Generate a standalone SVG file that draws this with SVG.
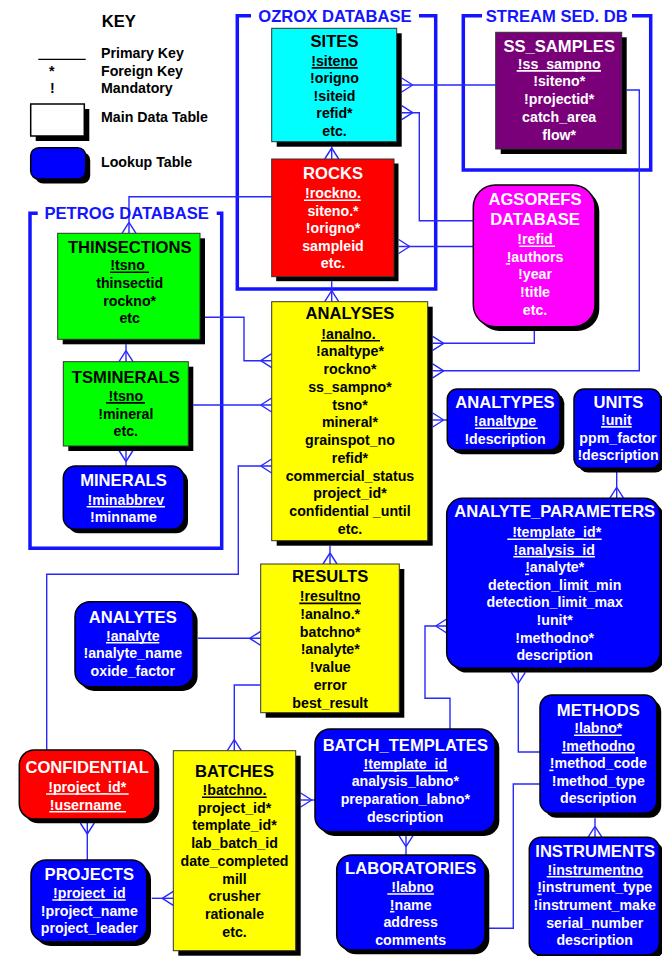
<svg xmlns="http://www.w3.org/2000/svg" width="662" height="956" viewBox="0 0 662 956">
<defs>
<marker id="crow" markerWidth="14" markerHeight="16" refX="12" refY="8" orient="auto" markerUnits="userSpaceOnUse" viewBox="0 0 14 16" overflow="visible"><path d="M1,8 L12,1 M1,8 L12,15" fill="none" stroke="#2828ff" stroke-width="1.4"/></marker>
</defs>
<style>
text{font-family:"Liberation Sans",Arial,sans-serif;font-weight:bold;fill:#000}
.ti{font-size:16.6px;text-anchor:middle}
.f{font-size:14.2px;text-anchor:middle}
.k{font-size:14.2px}
.w{fill:#fff}
.sh{fill:#000}
.frame{fill:none;stroke:#1414ff;stroke-width:3.5}
.ft{font-size:16.6px;fill:#1414ff;text-anchor:middle}
.c{fill:none;stroke:#2828ff;stroke-width:1.4}
.cm{marker-end:url(#crow)}
.ul{stroke-width:1.6}
.uw{stroke:#fff}
.ub{stroke:#000}
.box{stroke:#333;stroke-width:1}
.rbox{stroke:#000;stroke-width:1.5}
</style>
<rect width="662" height="956" fill="#fff"/>

<g id="key">
<text class="k" x="101.7" y="26.7" style="font-size:16.6px">KEY</text>
<line x1="38.3" y1="59.3" x2="85.7" y2="59.3" stroke="#000" stroke-width="1.3"/>
<text class="k" x="101" y="57.5">Primary Key</text>
<text class="k" x="51.7" y="76" text-anchor="middle">*</text>
<text class="k" x="101" y="76">Foreign Key</text>
<text class="k" x="52.3" y="93.3" text-anchor="middle">!</text>
<text class="k" x="101" y="93.3">Mandatory</text>
<rect class="sh" x="35.7" y="109" width="53.6" height="32"/>
<rect x="30.7" y="104" width="53.6" height="32" fill="#fff" stroke="#000" stroke-width="1.5"/>
<text class="k" x="101" y="122.3">Main Data Table</text>
<rect class="sh" x="35.2" y="152.2" width="55" height="31.3" rx="8"/>
<rect class="rbox" x="30.7" y="147.7" width="55" height="31.3" rx="8" fill="#0000ff"/>
<text class="k" x="101" y="167.3">Lookup Table</text>
</g>

<g id="frames">
<path class="frame" d="M251,15.7 H237.3 V289 H435.7 V15.7 H419"/>
<text class="ft" x="335" y="21.7">OZROX DATABASE</text>
<path class="frame" d="M482,15.7 H463.3 V170 H650.7 V15.7 H632"/>
<text class="ft" x="556.7" y="21.7">STREAM SED. DB</text>
<path class="frame" d="M37.7,213.3 H30 V548.3 H221.7 V213.3 H216.7"/>
</g>

<g id="connectors">
<path class="c cm" d="M331.7,146.7 V159"/>
<path class="c cm" d="M495.7,85 H401.7"/>
<path class="c cm" d="M473.3,220.7 H419.3 V112.7 H401.7"/>
<path class="c cm" d="M473.3,246.5 H398.7"/>
<path class="c cm" d="M271.7,196.7 H129 V233.3"/>
<path class="c cm" d="M331.7,281.2 V301.7"/>
<path class="c cm" d="M205,317.3 H244 V360.7 H271.7"/>
<path class="c cm" d="M193.3,405 H271.7"/>
<path class="c cm" d="M126,344.3 V361.7"/>
<path class="c cm" d="M126,466 V450.5"/>
<path class="c cm" d="M46.7,750 V574.3 H238.3 V466 H271.7"/>
<path class="c cm" d="M534.3,330.8 V343.3 H432.7"/>
<path class="c cm" d="M626.7,90 H639.3 V370.8 H432.7"/>
<path class="c cm" d="M447.3,420 H432.7"/>
<path class="c cm" d="M330,545.7 V564"/>
<path class="c cm" d="M198,638.3 H260.7"/>
<path class="c cm" d="M260.7,685 H234.3 V750.7"/>
<path class="c cm" d="M151.7,898.3 H173.3"/>
<path class="c cm" d="M87.3,860 V823"/>
<path class="c cm" d="M315,800 H300.7"/>
<path class="c cm" d="M406,855 V835.7"/>
<path class="c cm" d="M616.7,472 V498.3"/>
<path class="c cm" d="M450,729 V698.3 H425 V626 H446.7"/>
<path class="c cm" d="M540,752 H518.3 V672.3"/>
<path class="c" d="M485,928.3 H513.3 V784 H540"/>
<path class="c cm" d="M595,818.3 V837.3"/>
</g>
<text class="ft" x="126.7" y="219.3">PETROG DATABASE</text>

<g id="sites">
<rect class="sh" x="276.7" y="33.3" width="125" height="113.4"/>
<rect class="box" x="271.7" y="28.3" width="125" height="113.4" fill="#00ffff"/>
<text class="ti" x="334.5" y="47.3">SITES</text>
<text class="f" x="334.5" y="65.7">!siteno</text>
<line class="ul ub" x1="311.7" y1="67.9" x2="357.7" y2="67.9"/>
<text class="f" x="334.5" y="83.2">!origno</text>
<text class="f" x="334.5" y="100.8">!siteid</text>
<text class="f" x="334.5" y="118.4">refid*</text>
<text class="f" x="334.5" y="136">etc.</text>
</g>

<g id="rocks">
<rect class="sh" x="276.2" y="163.5" width="122.3" height="117.7"/>
<rect class="box" x="271.7" y="159" width="122.3" height="117.7" fill="#ff0000"/>
<text class="ti w" x="333" y="179">ROCKS</text>
<text class="f w" x="333" y="198">!rockno.</text>
<line class="ul uw" x1="304" y1="200.2" x2="360.7" y2="200.2"/>
<text class="f w" x="333" y="215.6">siteno.*</text>
<text class="f w" x="333" y="233.2">!origno*</text>
<text class="f w" x="333" y="250.8">sampleid</text>
<text class="f w" x="333" y="268.4">etc.</text>
</g>

<g id="ss_samples">
<rect class="sh" x="500.7" y="37.3" width="126" height="116.7"/>
<rect class="box" x="495.7" y="32.3" width="126" height="116.7" fill="#7a007a"/>
<text class="ti w" x="559.2" y="52.3">SS_SAMPLES</text>
<text class="f w" x="559.2" y="68.7">!ss_sampno</text>
<line class="ul uw" x1="516.7" y1="70.9" x2="601" y2="70.9"/>
<text class="f w" x="559.2" y="86.4">!siteno*</text>
<text class="f w" x="559.2" y="104.1">!projectid*</text>
<text class="f w" x="559.2" y="121.8">catch_area</text>
<text class="f w" x="559.2" y="139.5">flow*</text>
</g>

<g id="thinsections">
<rect class="sh" x="62.7" y="238.3" width="142.3" height="106"/>
<rect class="box" x="57.7" y="233.3" width="142.3" height="106" fill="#00ff00"/>
<text class="ti" x="129.7" y="253.3">THINSECTIONS</text>
<text class="f" x="127.6" y="270">!tsno</text>
<line class="ul ub" x1="110" y1="272.2" x2="149" y2="272.2"/>
<text class="f" x="129.7" y="287.8">thinsectid</text>
<text class="f" x="129.7" y="305.6">rockno*</text>
<text class="f" x="129.7" y="323.4">etc</text>
</g>

<g id="tsminerals">
<rect class="sh" x="68.3" y="366.7" width="125" height="84.3"/>
<rect class="box" x="63.3" y="361.7" width="125" height="84.3" fill="#00ff00"/>
<text class="ti" x="125.8" y="383.3">TSMINERALS</text>
<text class="f" x="125.8" y="400.7">!tsno</text>
<line class="ul ub" x1="106" y1="402.9" x2="145" y2="402.9"/>
<text class="f" x="125.8" y="418.5">!mineral</text>
<text class="f" x="125.8" y="436.3">etc.</text>
</g>

<g id="minerals">
<rect class="sh" x="67.3" y="470" width="120.7" height="63.3" rx="12"/>
<rect class="rbox" x="63.3" y="466" width="120.7" height="63.3" rx="12" fill="#0000ff"/>
<text class="ti w" x="123.5" y="486">MINERALS</text>
<text class="f w" x="125.8" y="504.5">!minabbrev</text>
<line class="ul uw" x1="86.7" y1="506.7" x2="165" y2="506.7"/>
<text class="f w" x="123.5" y="522">!minname</text>
</g>

<g id="analyses">
<rect class="sh" x="276.7" y="306.7" width="156" height="239"/>
<rect class="box" x="271.7" y="301.7" width="156" height="239" fill="#ffff00"/>
<text class="ti" x="350" y="319.3">ANALYSES</text>
<text class="f" x="348.5" y="338.5">!analno.</text>
<line class="ul ub" x1="321" y1="340.7" x2="380" y2="340.7"/>
<text class="f" x="350" y="356.25">!analtype*</text>
<text class="f" x="350" y="374">rockno*</text>
<text class="f" x="350" y="391.75">ss_sampno*</text>
<text class="f" x="350" y="409.5">tsno*</text>
<text class="f" x="350" y="427.25">mineral*</text>
<text class="f" x="350" y="445">grainspot_no</text>
<text class="f" x="350" y="462.75">refid*</text>
<text class="f" x="350" y="480.5">commercial_status</text>
<text class="f" x="350" y="498.25">project_id*</text>
<text class="f" x="350" y="516">confidential _until</text>
<text class="f" x="350" y="533.75">etc.</text>
</g>

<g id="agsorefs">
<rect class="sh" x="477.6" y="189.3" width="121.7" height="141.7" rx="22"/>
<rect class="rbox" x="473.3" y="185" width="121.7" height="141.7" rx="22" fill="#ff00ff"/>
<text class="ti w" x="535" y="205">AGSOREFS</text>
<text class="ti w" x="535" y="225">DATABASE</text>
<text class="f w" x="535" y="244">!refid</text>
<line class="ul uw" x1="519.3" y1="246.2" x2="555" y2="246.2"/>
<text class="f w" x="535" y="261.7">!authors</text>
<line class="ul uw" x1="505.7" y1="263.9" x2="510" y2="263.9"/>
<text class="f w" x="535" y="279.4">!year</text>
<text class="f w" x="535" y="297.1">!title</text>
<text class="f w" x="535" y="314.8">etc.</text>
</g>

<g id="analtypes">
<rect class="sh" x="451.6" y="393.3" width="112.7" height="61" rx="10"/>
<rect class="rbox" x="447.3" y="389" width="112.7" height="61" rx="10" fill="#0000ff"/>
<text class="ti w" x="505" y="408.3">ANALTYPES</text>
<text class="f w" x="505" y="426">!analtype</text>
<line class="ul uw" x1="475" y1="428.2" x2="537.7" y2="428.2"/>
<text class="f w" x="505" y="443.7">!description</text>
</g>

<g id="units">
<rect class="sh" x="578.3" y="393.3" width="86.7" height="79.3" rx="10"/>
<rect class="rbox" x="574" y="389" width="86.7" height="79.3" rx="10" fill="#0000ff"/>
<text class="ti w" x="618.5" y="407.7">UNITS</text>
<text class="f w" x="616.3" y="424.7">!unit</text>
<line class="ul uw" x1="601" y1="426.9" x2="631.7" y2="426.9"/>
<text class="f w" x="618" y="442.5">ppm_factor</text>
<text class="f w" x="618" y="460.3">!description</text>
</g>

<g id="analyte_parameters">
<rect class="sh" x="451" y="502.6" width="213.3" height="170" rx="16"/>
<rect class="rbox" x="446.7" y="498.3" width="213.3" height="170" rx="16" fill="#0000ff"/>
<text class="ti w" x="554.7" y="517.3">ANALYTE_PARAMETERS</text>
<text class="f w" x="556.7" y="537">!template_id*</text>
<line class="ul uw" x1="507.3" y1="539.2" x2="601.7" y2="539.2"/>
<text class="f w" x="554.2" y="554.6">!analysis_id</text>
<line class="ul uw" x1="513.3" y1="556.8" x2="595" y2="556.8"/>
<text class="f w" x="554.7" y="572.2">!analyte*</text>
<line class="ul uw" x1="525" y1="574.4" x2="529.2" y2="574.4"/>
<text class="f w" x="554.7" y="589.8">detection_limit_min</text>
<text class="f w" x="554.7" y="607.4">detection_limit_max</text>
<text class="f w" x="554.7" y="625">!unit*</text>
<text class="f w" x="554.7" y="642.6">!methodno*</text>
<text class="f w" x="554.7" y="660.2">description</text>
</g>

<g id="results">
<rect class="sh" x="265.7" y="569" width="138.6" height="148.7"/>
<rect class="box" x="260.7" y="564" width="138.6" height="148.7" fill="#ffff00"/>
<text class="ti" x="330.2" y="582.3">RESULTS</text>
<text class="f" x="330.2" y="601.2">!resultno</text>
<line class="ul ub" x1="299.3" y1="603.4" x2="361" y2="603.4"/>
<text class="f" x="330.2" y="618.9">!analno.*</text>
<text class="f" x="330.2" y="636.7">batchno*</text>
<text class="f" x="330.2" y="654.4">!analyte*</text>
<text class="f" x="330.2" y="672.2">!value</text>
<text class="f" x="330.2" y="689.9">error</text>
<text class="f" x="330.2" y="707.7">best_result</text>
</g>

<g id="analytes">
<rect class="sh" x="79.3" y="606" width="118.3" height="85" rx="15"/>
<rect class="rbox" x="75" y="601.7" width="118.3" height="85" rx="15" fill="#0000ff"/>
<text class="ti w" x="132.8" y="623.3">ANALYTES</text>
<text class="f w" x="132.8" y="640.5">!analyte</text>
<line class="ul uw" x1="106" y1="642.7" x2="159.3" y2="642.7"/>
<text class="f w" x="132.8" y="658.2">!analyte_name</text>
<text class="f w" x="132.8" y="675.9">oxide_factor</text>
</g>

<g id="batches">
<rect class="sh" x="178.3" y="755.7" width="122.4" height="200"/>
<rect class="box" x="173.3" y="750.7" width="122.4" height="200" fill="#ffff00"/>
<text class="ti" x="234.5" y="776.7">BATCHES</text>
<text class="f" x="234.5" y="795">!batchno.</text>
<line class="ul ub" x1="202" y1="797.2" x2="266.7" y2="797.2"/>
<text class="f" x="234.5" y="812.7">project_id*</text>
<text class="f" x="234.5" y="830.4">template_id*</text>
<text class="f" x="234.5" y="848.1">lab_batch_id</text>
<text class="f" x="234.5" y="865.8">date_completed</text>
<text class="f" x="234.5" y="883.5">mill</text>
<text class="f" x="234.5" y="901.2">crusher</text>
<text class="f" x="234.5" y="918.9">rationale</text>
<text class="f" x="234.5" y="936.6">etc.</text>
</g>

<g id="confidential">
<rect class="sh" x="23.6" y="754.3" width="135.7" height="69" rx="15"/>
<rect class="rbox" x="19.3" y="750" width="135.7" height="69" rx="15" fill="#ff0000"/>
<text class="ti w" x="87.2" y="773.3">CONFIDENTIAL</text>
<text class="f w" x="87.2" y="791.8">!project_id*</text>
<line class="ul uw" x1="46" y1="794" x2="128.7" y2="794"/>
<text class="f w" x="85.7" y="809.5">!username</text>
<line class="ul uw" x1="49.3" y1="811.7" x2="126" y2="811.7"/>
</g>

<g id="projects">
<rect class="sh" x="35.3" y="864.3" width="115.7" height="81.7" rx="15"/>
<rect class="rbox" x="31" y="860" width="115.7" height="81.7" rx="15" fill="#0000ff"/>
<text class="ti w" x="89.3" y="880">PROJECTS</text>
<text class="f w" x="89.3" y="897.8">!project_id</text>
<line class="ul uw" x1="52.3" y1="900" x2="125.7" y2="900"/>
<text class="f w" x="89.3" y="915.5">!project_name</text>
<text class="f w" x="89.3" y="933.2">project_leader</text>
</g>

<g id="batch_templates">
<rect class="sh" x="319.3" y="733.3" width="180" height="102.7" rx="15"/>
<rect class="rbox" x="315" y="729" width="180" height="102.7" rx="15" fill="#0000ff"/>
<text class="ti w" x="405.3" y="750.7">BATCH_TEMPLATES</text>
<text class="f w" x="405.3" y="768.5">!template_id</text>
<line class="ul uw" x1="363.3" y1="770.7" x2="447.7" y2="770.7"/>
<text class="f w" x="405.3" y="786.2">analysis_labno*</text>
<text class="f w" x="405.3" y="803.9">preparation_labno*</text>
<text class="f w" x="405.3" y="821.6">description</text>
</g>

<g id="laboratories">
<rect class="sh" x="341" y="859.3" width="148.3" height="95" rx="15"/>
<rect class="rbox" x="336.7" y="855" width="148.3" height="95" rx="15" fill="#0000ff"/>
<text class="ti w" x="410.7" y="874">LABORATORIES</text>
<text class="f w" x="412.5" y="891.8">!labno</text>
<line class="ul uw" x1="387.3" y1="894" x2="434" y2="894"/>
<text class="f w" x="410.7" y="909.5">!name</text>
<line class="ul uw" x1="390" y1="911.7" x2="394.4" y2="911.7"/>
<text class="f w" x="410.7" y="927.2">address</text>
<text class="f w" x="410.7" y="944.9">comments</text>
</g>

<g id="methods">
<rect class="sh" x="544.5" y="699.5" width="116.7" height="118.3" rx="12"/>
<rect class="rbox" x="540" y="695" width="116.7" height="118.3" rx="12" fill="#0000ff"/>
<text class="ti w" x="598.3" y="715.7">METHODS</text>
<text class="f w" x="598.3" y="733">!labno*</text>
<line class="ul uw" x1="574" y1="735.2" x2="621.7" y2="735.2"/>
<text class="f w" x="598.3" y="750.6">!methodno</text>
<line class="ul uw" x1="561.7" y1="752.8" x2="635" y2="752.8"/>
<text class="f w" x="598.3" y="768.2">!method_code</text>
<line class="ul uw" x1="549.3" y1="770.4" x2="553.5" y2="770.4"/>
<text class="f w" x="598.3" y="785.8">!method_type</text>
<text class="f w" x="598.3" y="803.4">description</text>
</g>

<g id="instruments">
<rect class="sh" x="533.6" y="841.6" width="130" height="117.7" rx="12"/>
<rect class="rbox" x="529.3" y="837.3" width="130" height="117.7" rx="12" fill="#0000ff"/>
<text class="ti w" x="595.2" y="856.7">INSTRUMENTS</text>
<text class="f w" x="595.2" y="874.5">!instrumentno</text>
<line class="ul uw" x1="546.7" y1="876.7" x2="643.3" y2="876.7"/>
<text class="f w" x="594.7" y="892.2">!instrument_type</text>
<line class="ul uw" x1="537.3" y1="894.4" x2="541.7" y2="894.4"/>
<text class="f w" x="594.7" y="909.9">!instrument_make</text>
<text class="f w" x="594.7" y="927.6">serial_number</text>
<text class="f w" x="594.7" y="945.3">description</text>
</g>
</svg>
